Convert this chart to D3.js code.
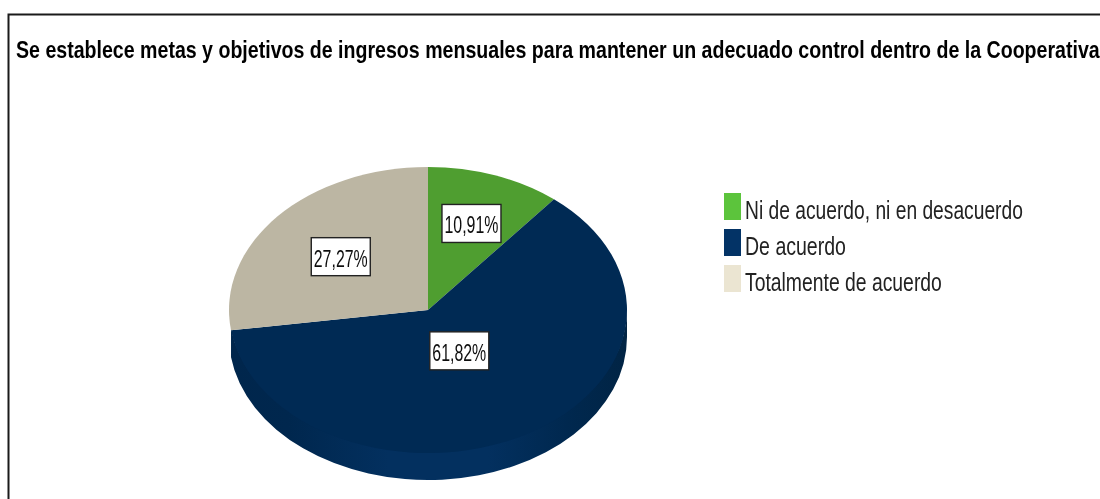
<!DOCTYPE html>
<html>
<head>
<meta charset="utf-8">
<script src="https://cdnjs.cloudflare.com/ajax/libs/d3/7.8.5/d3.min.js"></script>
<style>
html,body{margin:0;padding:0;background:#fff;overflow:hidden}
svg{display:block}
text{font-family:"Liberation Sans",Arial,sans-serif}
</style>
</head>
<body>
<svg id="chart" width="1100" height="499"></svg>
<script>
const titleText = "Se establece metas y objetivos de ingresos mensuales para mantener un adecuado control dentro de la Cooperativa";
const categories = ["Ni de acuerdo, ni en desacuerdo", "De acuerdo", "Totalmente de acuerdo"];
const values = [10.91, 61.82, 27.27];
const pieColors = ["#4f9e30", "#002a54", "#bcb6a3"];
const legendColors = ["#5cc43c", "#033366", "#ebe5d2"];
const labelRadiusFractions = [0.65, 0.32, 0.58];
const legendWidths = [278, 101, 197];

const svg = d3.select("#chart");
const defs = svg.append("defs");
const blur = defs.append("filter").attr("id","soft").attr("x","-5%").attr("y","-20%").attr("width","110%").attr("height","140%");
blur.append("feGaussianBlur").attr("stdDeviation",0.45);
const grad = defs.append("linearGradient").attr("id","side").attr("gradientUnits","userSpaceOnUse")
  .attr("x1",-199).attr("x2",199).attr("y1",0).attr("y2",0);
[[0,"#00264c"],[0.15,"#00274e"],[0.4,"#03305f"],[0.65,"#03305f"],[0.85,"#00284f"],[1,"#012444"]]
  .forEach(([o,c])=>grad.append("stop").attr("offset",o).attr("stop-color",c));

// squeeze a text horizontally to a given width, keeping its height
function fit(sel, x, y, width, anchorMiddle) {
  sel.each(function(d,i){
    const w = typeof width === "function" ? width(d,i) : width;
    const natural = this.getComputedTextLength();
    const sx = w / natural;
    const px = anchorMiddle ? x - w/2 : x;
    d3.select(this).attr("transform",`translate(${px},${y}) scale(${sx},1)`);
  });
}

// frame (runs off the right and bottom of the picture)
svg.append("rect").attr("x",8.5).attr("y",14.5).attr("width",1200).attr("height",600)
  .attr("fill","#fff").attr("stroke","#1a1a1a").attr("stroke-width",2);

// title
svg.append("text").attr("font-size",23.5).attr("font-weight","bold")
  .attr("fill","#000").attr("filter","url(#soft)").text(titleText)
  .call(fit,16,58,1084);

// pie geometry
const cx = 428, cy = 310, rx = 199, ry = 143, depth = 27;
const pie = d3.pie().sort(null).value(d=>d);
const arcs = pie(values);
const arc = d3.arc().innerRadius(0).outerRadius(rx);
const yScale = ry/rx;

const g = svg.append("g").attr("transform",`translate(${cx},${cy})`);

// extruded rim of the navy slice: lower half of the ellipse, pushed down by depth
const edge = a => [rx*Math.sin(a), -ry*Math.cos(a)];
const visibleStart = Math.PI/2, visibleEnd = 3*Math.PI/2;
const overlap = 1.5; // tucks the rim's top edge under the face so no pale seam shows
const rim = arcs.filter((d,i)=>i===1).map(d=>{
  const a0 = Math.max(d.startAngle, visibleStart), a1 = Math.min(d.endAngle, visibleEnd);
  const [x0,y0] = edge(a0), [x1,y1] = edge(a1);
  return `M${x0},${y0-overlap}A${rx},${ry} 0 0 1 ${x1},${y1-overlap}L${x1},${y1+depth}A${rx},${ry} 0 0 0 ${x0},${y0+depth}Z`;
});
g.selectAll("path.rim").data(rim).join("path").attr("class","rim")
  .attr("d",d=>d).attr("fill","url(#side)");

// top face
g.append("g").attr("transform",`scale(1,${yScale})`)
  .selectAll("path.slice").data(arcs).join("path").attr("class","slice")
  .attr("d",arc).attr("fill",(d,i)=>pieColors[i]);

// value labels
const boxW = 59, boxH = 38;
const labels = g.selectAll("g.lab").data(arcs).join("g").attr("class","lab")
  .attr("transform",(d,i)=>{
    const m = (d.startAngle+d.endAngle)/2, f = labelRadiusFractions[i];
    return `translate(${f*rx*Math.sin(m)},${1-f*ry*Math.cos(m)})`;
  });
labels.append("rect").attr("x",-boxW/2).attr("y",-boxH/2).attr("width",boxW).attr("height",boxH)
  .attr("fill","#fff").attr("stroke","#222").attr("stroke-width",1.4);
labels.append("text").attr("font-size",24.5)
  .attr("fill","#111").attr("filter","url(#soft)")
  .text(d=>d.value.toFixed(2).replace(".",",")+"%")
  .call(fit,0,10,54,true);

// legend
const legendY = d3.scaleBand().domain(categories).range([191,299]);
const legend = svg.selectAll("g.leg").data(categories).join("g").attr("class","leg")
  .attr("transform",d=>`translate(723,${legendY(d)})`);
legend.append("rect").attr("x",1).attr("y",2).attr("width",17).attr("height",27)
  .attr("fill",(d,i)=>legendColors[i]);
legend.append("text").attr("font-size",26).attr("fill","#222")
  .attr("filter","url(#soft)").text(d=>d)
  .call(fit,22,28,(d,i)=>legendWidths[i]);
</script>
</body>
</html>
